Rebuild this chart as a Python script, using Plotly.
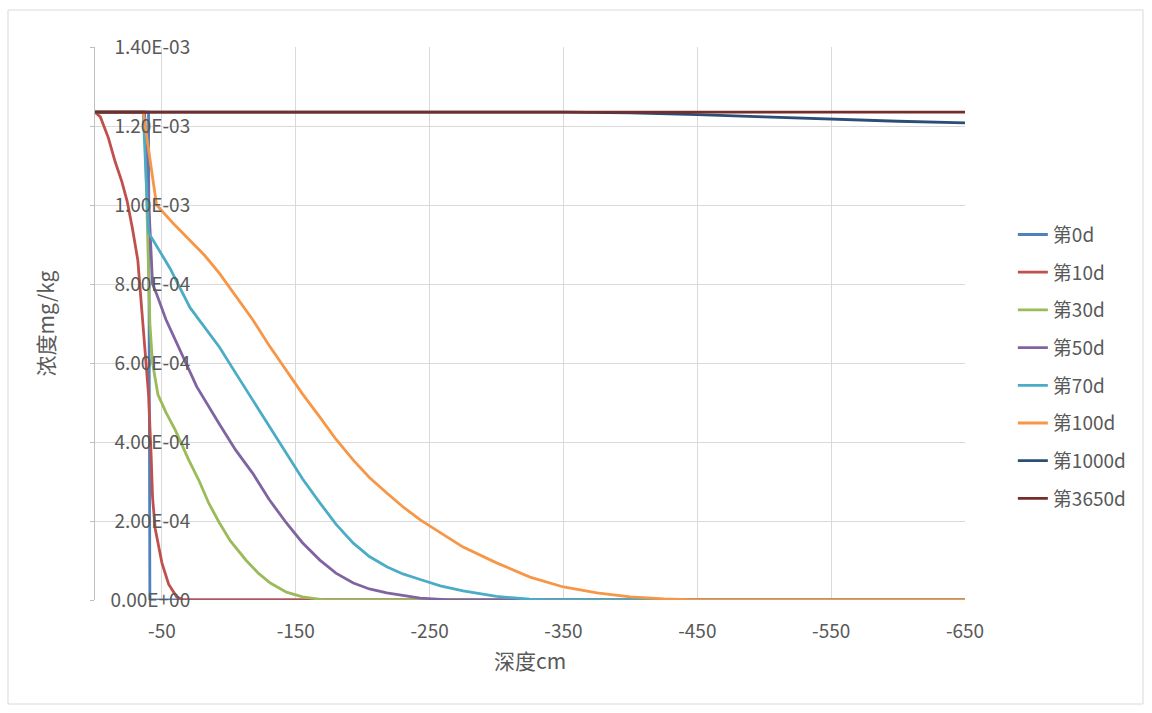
import plotly.graph_objects as go

# ---- data (depth in cm, concentration in mg/kg) ----
names = ["第0d", "第10d", "第30d", "第50d", "第70d", "第100d", "第1000d", "第3650d"]
colors = ["#4F81BD", "#C0504D", "#9BBB59", "#8064A2", "#4BACC6", "#F79646", "#2C4D75", "#772C2A"]

x_0d = [0, -40, -41, -650]
y_0d = [1.235e-3, 1.235e-3, 0, 0]

x_10d = [0, -4, -10, -15, -20, -24, -28, -32, -36, -40, -42, -43, -45, -48, -50, -55, -61, -66, -650]
y_10d = [1.235e-3, 1.223e-3, 1.17e-3, 1.11e-3, 1.06e-3, 1.01e-3, 9.4e-4, 8.6e-4, 6.9e-4,
         5.2e-4, 3.6e-4, 2.6e-4, 1.8e-4, 1.25e-4, 9.4e-5, 4.0e-5, 8e-6, 0, 0]

x_30d = [0, -37, -41, -43, -47, -53, -60, -70, -78, -85, -93, -101, -113, -122, -131, -143, -155, -170, -180, -650]
y_30d = [1.235e-3, 1.235e-3, 7.0e-4, 6.0e-4, 5.2e-4, 4.75e-4, 4.3e-4, 3.55e-4, 3.0e-4, 2.45e-4,
         1.95e-4, 1.5e-4, 1.0e-4, 6.8e-5, 4.3e-5, 2.0e-5, 8e-6, 1e-6, 0, 0]

x_50d = [0, -37, -43, -46, -53, -61, -76, -93, -105, -118, -130, -143, -155, -168, -180, -193, -205, -218, -243, -265, -650]
y_50d = [1.235e-3, 1.235e-3, 8.0e-4, 7.75e-4, 7.1e-4, 6.5e-4, 5.4e-4, 4.45e-4, 3.8e-4, 3.2e-4,
         2.55e-4, 1.95e-4, 1.45e-4, 1.01e-4, 6.8e-5, 4.3e-5, 2.8e-5, 1.8e-5, 5e-6, 0, 0]

x_70d = [0, -36, -40, -48, -56, -71, -93, -105, -118, -130, -143, -155, -168, -180, -193, -205, -218, -230, -243,
         -258, -275, -300, -325, -340, -650]
y_70d = [1.235e-3, 1.235e-3, 9.3e-4, 8.85e-4, 8.4e-4, 7.4e-4, 6.4e-4, 5.75e-4, 5.06e-4, 4.4e-4, 3.72e-4,
         3.07e-4, 2.46e-4, 1.92e-4, 1.44e-4, 1.1e-4, 8.4e-5, 6.6e-5, 5.2e-5, 3.6e-5, 2.3e-5, 9e-6,
         2e-6, 0, 0]

x_100d = [0, -36, -46, -58, -71, -82, -93, -105, -118, -130, -143, -155, -168, -180, -193, -205, -218,
          -230, -243, -258, -275, -300, -325, -350, -375, -400, -425, -450, -650]
y_100d = [1.235e-3, 1.235e-3, 1.0e-3, 9.55e-4, 9.1e-4, 8.72e-4, 8.27e-4, 7.7e-4, 7.09e-4, 6.45e-4,
          5.82e-4, 5.22e-4, 4.63e-4, 4.07e-4, 3.54e-4, 3.1e-4, 2.71e-4, 2.36e-4, 2.03e-4, 1.7e-4,
          1.34e-4, 9.4e-5, 5.8e-5, 3.3e-5, 1.8e-5, 8e-6, 3e-6, 0, 0]

x_1000d = [0, -350, -400, -450, -500, -550, -600, -650]
y_1000d = [1.235e-3, 1.235e-3, 1.233e-3, 1.229e-3, 1.223e-3, 1.217e-3, 1.212e-3, 1.208e-3]

x_3650d = [0, -650]
y_3650d = [1.235e-3, 1.235e-3]

x_tickvals = [-50, -150, -250, -350, -450, -550, -650]
x_ticktext = ["-50", "-150", "-250", "-350", "-450", "-550", "-650"]
y_tickvals = [0, 2e-4, 4e-4, 6e-4, 8e-4, 1.0e-3, 1.2e-3, 1.4e-3]
y_ticktext = ["0.00E+00", "2.00E-04", "4.00E-04", "6.00E-04", "8.00E-04",
              "1.00E-03", "1.20E-03", "1.40E-03"]

series = [(x_0d, y_0d), (x_10d, y_10d), (x_30d, y_30d), (x_50d, y_50d),
          (x_70d, y_70d), (x_100d, y_100d), (x_1000d, y_1000d), (x_3650d, y_3650d)]

FONT = "Noto Sans CJK SC"
TXT = "#595959"

fig = go.Figure()
for name, color, (xs, ys) in zip(names, colors, series):
    fig.add_trace(go.Scatter(
        x=xs, y=ys, name=name, mode="lines", legendgroup=name,
        line=dict(color=color, width=2.8),
        cliponaxis=False,
    ))

fig.update_layout(
    width=1152, height=713,
    margin=dict(l=95, r=187, t=47, b=113),
    paper_bgcolor="white", plot_bgcolor="white",
    font=dict(family=FONT, size=19, color=TXT),
    showlegend=True,
    legend=dict(x=1.055, y=0.695, xanchor="left", yanchor="top",
                font=dict(family=FONT, size=19, color=TXT),
                tracegroupgap=10, bgcolor="rgba(0,0,0,0)"),
    xaxis=dict(
        range=[0, -650], tickvals=x_tickvals, ticktext=x_ticktext,
        showgrid=True, gridcolor="#D9D9D9", gridwidth=1,
        zeroline=False, showline=False, ticks="",
        ticklabelstandoff=18, ticklabeloverflow="allow",
        tickfont=dict(family=FONT, size=19, color=TXT),
        title=dict(text="深度cm", font=dict(family=FONT, size=21, color=TXT), standoff=12),
    ),
    yaxis=dict(
        range=[0, 1.4e-3], tickvals=y_tickvals, ticktext=y_ticktext,
        showgrid=True, gridcolor="#D9D9D9", gridwidth=1,
        zeroline=False, showline=True, linecolor="#BFBFBF", linewidth=1,
        ticks="outside", ticklen=4, tickcolor="#BFBFBF",
        ticklabelposition="outside", ticklabelstandoff=-104, ticklabeloverflow="allow",
        tickfont=dict(family=FONT, size=19, color=TXT),
        title=dict(text="浓度mg/kg", font=dict(family=FONT, size=21, color=TXT), standoff=50),
        automargin=False,
    ),
    shapes=[dict(type="rect", xref="paper", yref="paper",
                 x0=(8 - 95) / 870, x1=(1143 - 95) / 870,
                 y0=(600 - 704) / 553, y1=(600 - 10) / 553,
                 line=dict(color="#D9D9D9", width=1), layer="below")],
)

fig.write_html("out.html", config={"displayModeBar": False},
               post_script="document.body.style.margin='0';")
